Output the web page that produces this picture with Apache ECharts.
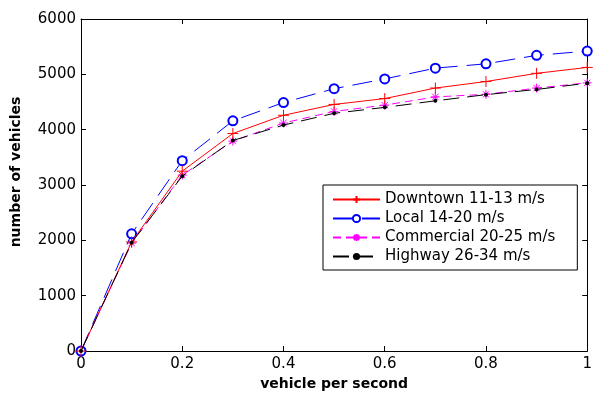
<!DOCTYPE html>
<html>
<head>
<meta charset="utf-8">
<script src="https://cdn.jsdelivr.net/npm/echarts@6/dist/echarts.min.js"></script>
<style>
  html, body { margin: 0; padding: 0; background: #fff; }
  #chart { width: 595px; height: 396px; }
</style>
</head>
<body>
<div id="chart"></div>
<script>
var xValues = [0, 0.1, 0.2, 0.3, 0.4, 0.5, 0.6, 0.7, 0.8, 0.9, 1];
var downtown = [0, 1970, 3250, 3930, 4260, 4456, 4562, 4752, 4870, 5018, 5125];
var local = [0, 2118, 3440, 4160, 4490, 4740, 4917, 5112, 5190, 5343, 5420];
var commercial = [0, 1950, 3178, 3793, 4120, 4330, 4443, 4592, 4639, 4752, 4846];
var highway = [0, 1958, 3160, 3804, 4083, 4296, 4403, 4521, 4633, 4727, 4840];
var seriesNames = ['Downtown 11-13 m/s', 'Local 14-20 m/s', 'Commercial 20-25 m/s', 'Highway 26-34 m/s'];

function pairs(ys) {
    return xValues.map(function (x, i) { return [x, ys[i]]; });
}

var font = 'DejaVu Sans';
var chart = echarts.init(document.getElementById('chart'));

var plus = 'path://M0,5L10,5M5,0L5,10';
var star = 'path://M0,5L10,5M5,0L5,10M1.5,1.5L8.5,8.5M8.5,1.5L1.5,8.5';

var axisCommon = {
    type: 'value',
    axisLine: { show: true, onZero: false, lineStyle: { color: '#000', width: 1 } },
    axisTick: { show: true, inside: true, length: 5, lineStyle: { color: '#000' } },
    splitLine: { show: false }
};

var option = {
    animation: false,
    backgroundColor: '#fff',
    grid: { left: 81, right: 4, top: 19, bottom: 39 },
    legend: {
        orient: 'vertical',
        left: 323,
        top: 185,
        width: 250,
        padding: [7, 22, 6, 9],
        itemWidth: 47,
        itemHeight: 9,
        itemGap: 4,
        backgroundColor: '#fff',
        borderColor: '#000',
        borderWidth: 1,
        borderRadius: 0,
        textStyle: { fontFamily: font, fontSize: 15, color: '#000' },
        data: seriesNames
    },
    xAxis: [
        Object.assign({}, axisCommon, {
            min: 0, max: 1, interval: 0.2,
            position: 'bottom',
            name: 'vehicle per second',
            nameLocation: 'middle',
            nameGap: 26,
            nameTextStyle: { fontFamily: font, fontSize: 14, fontWeight: 'bold', color: '#000' },
            axisLabel: { fontFamily: font, fontSize: 15, color: '#000', margin: 6 }
        }),
        Object.assign({}, axisCommon, {
            min: 0, max: 1, interval: 0.2,
            position: 'top',
            axisLabel: { show: false }
        })
    ],
    yAxis: [
        Object.assign({}, axisCommon, {
            min: 0, max: 6000, interval: 1000,
            position: 'left',
            name: 'number of vehicles',
            nameLocation: 'middle',
            nameGap: 58,
            nameTextStyle: { fontFamily: font, fontSize: 14, fontWeight: 'bold', color: '#000', padding: [0, 0, 0, 26] },
            axisLabel: { fontFamily: font, fontSize: 15, color: '#000', margin: 5, formatter: function (v) { return String(v); } }
        }),
        Object.assign({}, axisCommon, {
            min: 0, max: 6000, interval: 1000,
            position: 'right',
            axisLabel: { show: false }
        })
    ],
    series: [
        {
            name: seriesNames[0],
            type: 'line',
            data: pairs(downtown),
            symbol: plus,
            symbolSize: 11,
            itemStyle: { color: '#ff0000', borderColor: '#ff0000', borderWidth: 1 },
            lineStyle: { color: '#ff0000', width: 1, type: 'solid' },
            z: 4
        },
        {
            name: seriesNames[1],
            type: 'line',
            data: pairs(local),
            symbol: 'emptyCircle',
            symbolSize: 9,
            itemStyle: { color: '#0000ff', borderColor: '#0000ff', borderWidth: 0.8 },
            lineStyle: { color: '#0000ff', width: 1, type: [20, 9] },
            z: 3
        },
        {
            name: seriesNames[2],
            type: 'line',
            data: pairs(commercial),
            symbol: star,
            symbolSize: 9,
            itemStyle: { color: '#ff00ff', borderColor: '#ff00ff', borderWidth: 1 },
            lineStyle: { color: '#ff00ff', width: 1, type: [8, 5] },
            z: 2
        },
        {
            name: seriesNames[3],
            type: 'line',
            data: pairs(highway),
            symbol: 'circle',
            symbolSize: 4,
            itemStyle: { color: '#000' },
            lineStyle: { color: '#000', width: 1, type: [16, 8] },
            z: 5
        }
    ]
};

chart.setOption(option);
</script>
</body>
</html>
